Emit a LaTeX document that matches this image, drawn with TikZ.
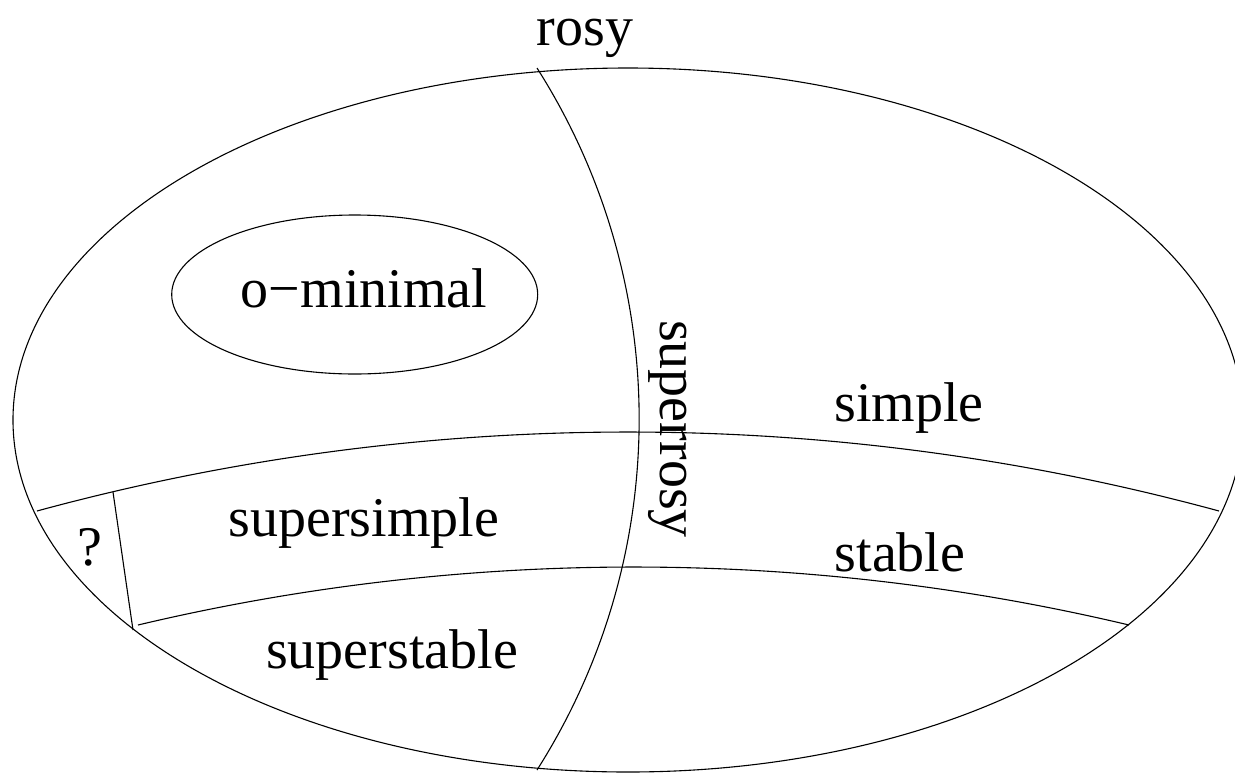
\documentclass[tikz,border=0pt]{standalone}
\usepackage{fontspec}
\setmainfont{Liberation Serif}
\begin{document}
\begin{tikzpicture}[x=1pt, y=-1pt,
  boundary/.style={draw=black, line width=1.1pt},
  region/.style={font=\fontsize{56}{60}\selectfont, inner sep=0pt, anchor=base}]
  % page frame; the outer oval runs slightly past the right and bottom edges
  \clip (0,0) rectangle (1235,772);

  % outer oval: rosy theories
  \draw[boundary] (628,420) ellipse [x radius=615, y radius=352];

  % o-minimal oval
  \draw[boundary] (354.7,294.5) ellipse [x radius=183, y radius=79.5];

  % end points of the dividing curves
  \coordinate (srT) at (537,68);
  \coordinate (srB) at (537,770);
  \coordinate (smL) at (37,511);
  \coordinate (smR) at (1219,511);
  \coordinate (stL) at (138,625);
  \coordinate (stR) at (1129,625);
  \coordinate (qT)  at (113,492);
  \coordinate (qB)  at (133,630);

  % superrosy boundary (circular arc)
  \draw[boundary] (srT) .. controls (673.2,282.2) and (673.2,555.8) .. (srB);
  % simple boundary
  \draw[boundary] (smL) .. controls (423.9,405.7) and (832.1,405.7) .. (smR);
  % stable boundary
  \draw[boundary] (stL) .. controls (463.8,547.7) and (803.2,547.7) .. (stR);
  % open question wedge
  \draw[boundary] (qT) -- (qB);

  % labels
  \node[region] (rosy)        at (585,45)  {rosy};
  \node[region] (ominimal)    at (364,307) {o−minimal};
  \node[region, rotate=-90] (superrosy) at (660,429) {superrosy};
  \node[region] (simple)      at (909,421) {simple};
  \node[region] (supersimple) at (364,536) {supersimple};
  \node[region] (stable)      at (900,571) {stable};
  \node[region] (question)    at (90,565)  {?};
  \node[region] (superstable) at (392,668) {superstable};
\end{tikzpicture}
\end{document}
